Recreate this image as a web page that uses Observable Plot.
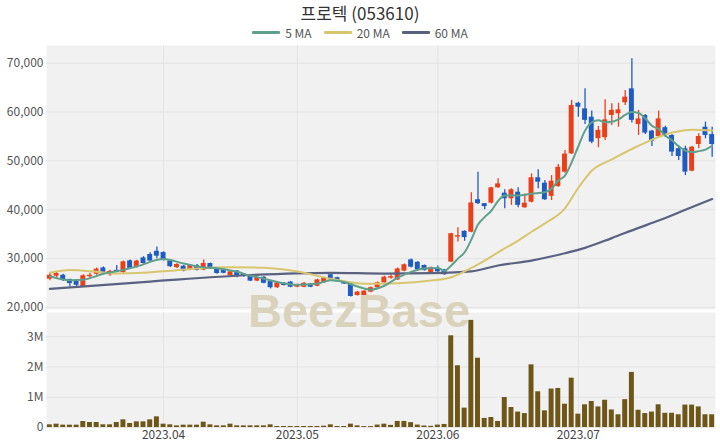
<!DOCTYPE html>
<html>
<head>
<meta charset="utf-8">
<script src="https://cdn.jsdelivr.net/npm/d3@7"></script>
<script src="https://cdn.jsdelivr.net/npm/@observablehq/plot@0.6"></script>
<style>
  body { margin: 0; background: #fff; font-family: "Noto Sans CJK KR", "Noto Sans", sans-serif; }
  #wrap { position: relative; width: 720px; height: 448px; overflow: hidden; }
  #title { position: absolute; top: 1px; left: 0; width: 720px; text-align: center; font-size: 17px; line-height: 24px; color: #333; }
  #legend { position: absolute; top: 25px; left: 0; width: 720px; display: flex; justify-content: center; gap: 12px; font-size: 12px; color: #555; line-height: 15px; }
  #legend .item { display: flex; align-items: center; }
  #legend .sw { width: 28px; height: 2.5px; margin-right: 5px; border-radius: 1px; }
  #top { position: absolute; top: 40px; left: 0; z-index: 2; }
  #vol { position: absolute; top: 310px; left: 0; z-index: 1; }
</style>
</head>
<body>
<div id="wrap">
  <div id="title">프로텍 (053610)</div>
  <div id="legend"></div>
  <div id="top"></div>
  <div id="vol"></div>
</div>
<script>
// Trading calendar (KRX sessions), 2023-03-09 .. 2023-07-31
const startDay = "2023-03-09";
const endDay = "2023-07-31";
const closedDays = ["2023-05-05", "2023-05-29", "2023-06-06"];

// Daily OHLC and volume, one entry per session
const open = [
  25800, 26400, 26600, 25750, 25350, 24250, 26300, 26800, 28100, 26700,
  27600, 27150, 29550, 28350, 30150, 30850, 31500, 31250, 29500, 28150,
  28450, 27650, 28600, 27650, 29000, 27850, 27800, 26500, 27450, 26800,
  26400, 25400, 26200, 25300, 24050, 24950, 25200, 24150, 24150, 24800,
  24350, 25050, 26700, 26100, 25200, 24850, 22450, 22250, 23150, 24050,
  25050, 26000, 25650, 27450, 29750, 29250, 28600, 27100, 28000, 27700,
  29300, 34400, 35600, 35400, 42050, 41250, 41350, 44500, 43400, 42250,
  43600, 40400, 41550, 46550, 45450, 42750, 44750, 47700, 51450, 61800,
  60650, 58950, 54550, 54750, 59300, 59650, 61900, 64750, 57450, 59300,
  56100, 55000, 56800, 55200, 52500, 52500, 47900, 53350, 56900, 55400
];
const high = [
  27150, 27300, 26800, 25800, 25450, 26700, 27000, 28100, 28300, 27600,
  28600, 29500, 29700, 29650, 30400, 31200, 32400, 31400, 29600, 28950,
  28600, 28800, 28800, 29700, 29100, 28000, 27900, 27500, 27550, 26900,
  26500, 26300, 26300, 25400, 25200, 25100, 25300, 24750, 25100, 24900,
  25800, 26200, 27000, 26200, 25300, 24950, 23300, 23450, 24200, 25200,
  26400, 26900, 28100, 28900, 29900, 29400, 28700, 28300, 28500, 27800,
  35200, 36300, 35700, 43500, 47700, 41300, 44600, 46350, 44100, 44300,
  44500, 43250, 47350, 48200, 46000, 47000, 49250, 52150, 62350, 62000,
  64750, 60200, 57050, 62500, 61700, 61800, 64400, 70900, 60350, 59500,
  56300, 60200, 57100, 55400, 53000, 53000, 53000, 55550, 57950, 56900
];
const low = [
  25450, 26100, 25300, 24250, 24300, 24100, 25900, 26600, 26700, 26400,
  27100, 27000, 27800, 28100, 28900, 29300, 30000, 29500, 28200, 28000,
  27300, 27500, 27450, 27500, 27800, 26800, 26900, 26300, 26100, 26200,
  25300, 25250, 24850, 23800, 23900, 24400, 24050, 24050, 24050, 24050,
  24250, 24950, 25550, 25200, 24700, 22150, 22350, 22150, 23000, 23900,
  24950, 25800, 25500, 27300, 28100, 27600, 27450, 27000, 26900, 26600,
  29200, 33400, 33550, 35300, 41100, 40000, 41200, 44400, 40200, 40900,
  40400, 40300, 41400, 44300, 41900, 41900, 44600, 47500, 51300, 58950,
  57450, 53500, 52700, 54200, 57250, 56900, 61350, 57750, 55200, 55400,
  52950, 54800, 54800, 50900, 50100, 47000, 47800, 52500, 54550, 50750
];
const close = [
  26600, 26950, 25550, 24900, 24550, 26500, 26600, 27850, 26900, 27400,
  27200, 29350, 28000, 29500, 29000, 29500, 30500, 29700, 28350, 28800,
  27450, 28650, 27600, 29000, 28000, 26950, 27000, 27300, 26300, 26350,
  25400, 26150, 24950, 24050, 25050, 24500, 24150, 24650, 24950, 24150,
  25650, 26000, 25650, 25300, 24800, 22250, 23150, 23350, 24050, 25050,
  26200, 26300, 27900, 28750, 28250, 27700, 27550, 28150, 27300, 26700,
  35100, 34700, 34300, 41400, 41250, 40650, 44500, 45300, 42250, 44100,
  40900, 41350, 46550, 45650, 42050, 45850, 48700, 51400, 61350, 61000,
  58300, 53850, 56250, 58400, 60350, 60450, 63050, 58300, 58600, 55700,
  54050, 58600, 55200, 51800, 50900, 47700, 52800, 55000, 55200, 53350
];
const volume = [
  88000, 110000, 77000, 77000, 77000, 198000, 165000, 165000, 88000, 88000,
  165000, 253000, 132000, 187000, 187000, 253000, 352000, 110000, 88000, 55000,
  77000, 77000, 77000, 176000, 88000, 55000, 55000, 110000, 55000, 55000,
  55000, 55000, 55000, 88000, 33000, 33000, 33000, 33000, 33000, 33000,
  33000, 44000, 88000, 33000, 33000, 110000, 55000, 30000, 30000, 80000,
  110000, 70000, 200000, 200000, 160000, 80000, 50000, 40000, 80000, 100000,
  3030000, 2040000, 640000, 3540000, 2290000, 300000, 330000, 200000, 990000, 660000,
  510000, 460000, 2070000, 1180000, 550000, 1270000, 1290000, 770000, 1630000, 440000,
  750000, 860000, 680000, 900000, 580000, 420000, 920000, 1820000, 570000, 460000,
  510000, 750000, 470000, 470000, 420000, 740000, 740000, 680000, 420000, 420000
];

// Moving averages: session index and value
const ma5At = [0,3,5,8,11,13,17,20,23,25,28,30,32,35,37,40,42,44,46,48,50,52,54,56,58,59,60,61,62,63,64,65,66,67,68,70,72,74,75,76,77,78,79,80,81,82,83,84,85,86,87,88,89,90,91,92,93,94,95,96,97,98,99];
const ma5 = [26400,25600,25700,26900,27700,28400,29900,29000,28200,28050,27300,26500,25900,24950,24650,24900,25600,25200,24300,23650,24450,26100,27300,28000,28100,27500,28600,30000,31300,33900,37000,38500,39800,41800,42900,42900,43300,43600,44300,46000,47000,49700,53000,56200,57900,58300,57900,58000,58500,59400,60000,59800,58700,57200,56500,55200,54200,53000,52100,51800,52000,52300,53100];
const ma20At = [0,3,7,10,14,18,22,27,32,37,42,47,52,57,60,62,65,67,70,72,74,77,79,81,84,88,93,96,99];
const ma20 = [27100,27650,27300,26950,27100,27500,28000,28250,28130,27370,25870,24850,24970,25530,26200,27400,29600,31300,33700,35500,37200,40300,44500,48000,50300,53100,55800,56400,56200];
const ma60At = [0,15,30,42,50,57,63,67,72,77,80,84,88,91,95,99];
const ma60 = [23800,25300,26650,27100,26950,27050,27400,28600,29600,31100,32200,34200,36300,37800,40000,42200];

const maNames = ["5 MA", "20 MA", "60 MA"];
const maColors = ["#5fa08c", "#d8c66e", "#5b6180"];

const priceTicks = [20000, 30000, 40000, 50000, 60000, 70000];
const volumeTicks = [0, 1000000, 2000000, 3000000];
const watermark = "BeezBase";

// ---- build the session list
const dates = [];
for (let t = new Date(startDay + "T00:00:00Z"); t <= new Date(endDay + "T00:00:00Z"); t.setUTCDate(t.getUTCDate() + 1)) {
  const wd = t.getUTCDay();
  const s = t.toISOString().slice(0, 10);
  if (wd === 0 || wd === 6 || closedDays.includes(s)) continue;
  dates.push(s);
}
const rows = dates.map((d, i) => ({i, date: d, open: open[i], high: high[i], low: low[i], close: close[i], volume: volume[i]}));
const monthStarts = rows.filter((r, k) => k > 0 && r.date.slice(0, 7) !== rows[k - 1].date.slice(0, 7)).map(r => r.i);
const monthLabel = i => dates[i].slice(0, 7).replace("-", ".");

const UP = "#eb3f1a", DOWN = "#1f5cc2";
const GRID = "#e3e3e3", BG = "#f1f1f1";
const font = `"Noto Sans CJK KR", "Noto Sans", sans-serif`;
const halfBody = 0.37;

const xScale = {domain: [-0.5, dates.length - 0.5], axis: null};
const maLine = (at, vals, color, w) =>
  Plot.line(at.map((i, k) => ({i, v: vals[k]})), {x: "i", y: "v", stroke: color, strokeWidth: w, curve: "monotone-x"});

// ---- legend
const legend = document.getElementById("legend");
maNames.forEach((n, k) => {
  const it = document.createElement("div");
  it.className = "item";
  it.innerHTML = `<span class="sw" style="background:${maColors[k]}"></span><span>${n}</span>`;
  legend.appendChild(it);
});

// ---- price panel (the watermark straddles the gap between the two panels)
const pricePlot = Plot.plot({
  width: 720, height: 270,
  marginTop: 5, marginBottom: 1, marginLeft: 46, marginRight: 5,
  style: {fontFamily: font, fontSize: "12px", color: "#555", background: "transparent", overflow: "visible"},
  x: xScale,
  y: {domain: [19590, 73620], axis: null},
  marks: [
    Plot.frame({fill: BG, stroke: null}),
    Plot.gridY(priceTicks, {stroke: GRID, strokeOpacity: 1}),
    Plot.gridX(monthStarts, {stroke: GRID, strokeOpacity: 1}),
    Plot.axisY(priceTicks, {tickSize: 0, tickPadding: 3, tickFormat: d3.format(","), fontSize: 12, fill: "#555", label: null}),
    Plot.ruleX(rows, {x: "i", y1: "low", y2: "high", stroke: d => d.close >= d.open ? UP : DOWN, strokeWidth: 1.3}),
    Plot.rectY(rows, {x1: d => d.i - halfBody, x2: d => d.i + halfBody, y1: "open", y2: "close", fill: d => d.close >= d.open ? UP : DOWN}),
    Plot.text([watermark], {frameAnchor: "bottom", lineAnchor: "middle", dx: -22, dy: 2, fontSize: 47, fontWeight: "bold", fontFamily: "Liberation Sans, Arial, sans-serif", fill: "#d9d3bc"}),
    maLine(ma60At, ma60, maColors[2], 2.2),
    maLine(ma20At, ma20, maColors[1], 2),
    maLine(ma5At, ma5, maColors[0], 2)
  ]
});
document.getElementById("top").appendChild(pricePlot);

// ---- volume panel
const volumePlot = Plot.plot({
  width: 720, height: 138,
  marginTop: 2, marginBottom: 21, marginLeft: 46, marginRight: 5,
  style: {fontFamily: font, fontSize: "12px", color: "#555", background: "transparent", overflow: "visible"},
  x: xScale,
  y: {domain: [0, 3800000], axis: null},
  marks: [
    Plot.frame({fill: BG, stroke: null}),
    Plot.gridY(volumeTicks, {stroke: GRID, strokeOpacity: 1}),
    Plot.gridX(monthStarts, {stroke: GRID, strokeOpacity: 1}),
    Plot.axisY(volumeTicks, {tickSize: 0, tickPadding: 3, tickFormat: d => d === 0 ? "0" : d / 1e6 + "M", fontSize: 12, fill: "#555", label: null}),
    Plot.axisX(monthStarts, {tickSize: 0, tickPadding: 3, tickFormat: monthLabel, fontSize: 12, fill: "#444", label: null}),
    Plot.rectY(rows, {x1: d => d.i - halfBody, x2: d => d.i + halfBody, y1: 0, y2: "volume", fill: "#6e5518"})
  ]
});
document.getElementById("vol").appendChild(volumePlot);
</script>
</body>
</html>
